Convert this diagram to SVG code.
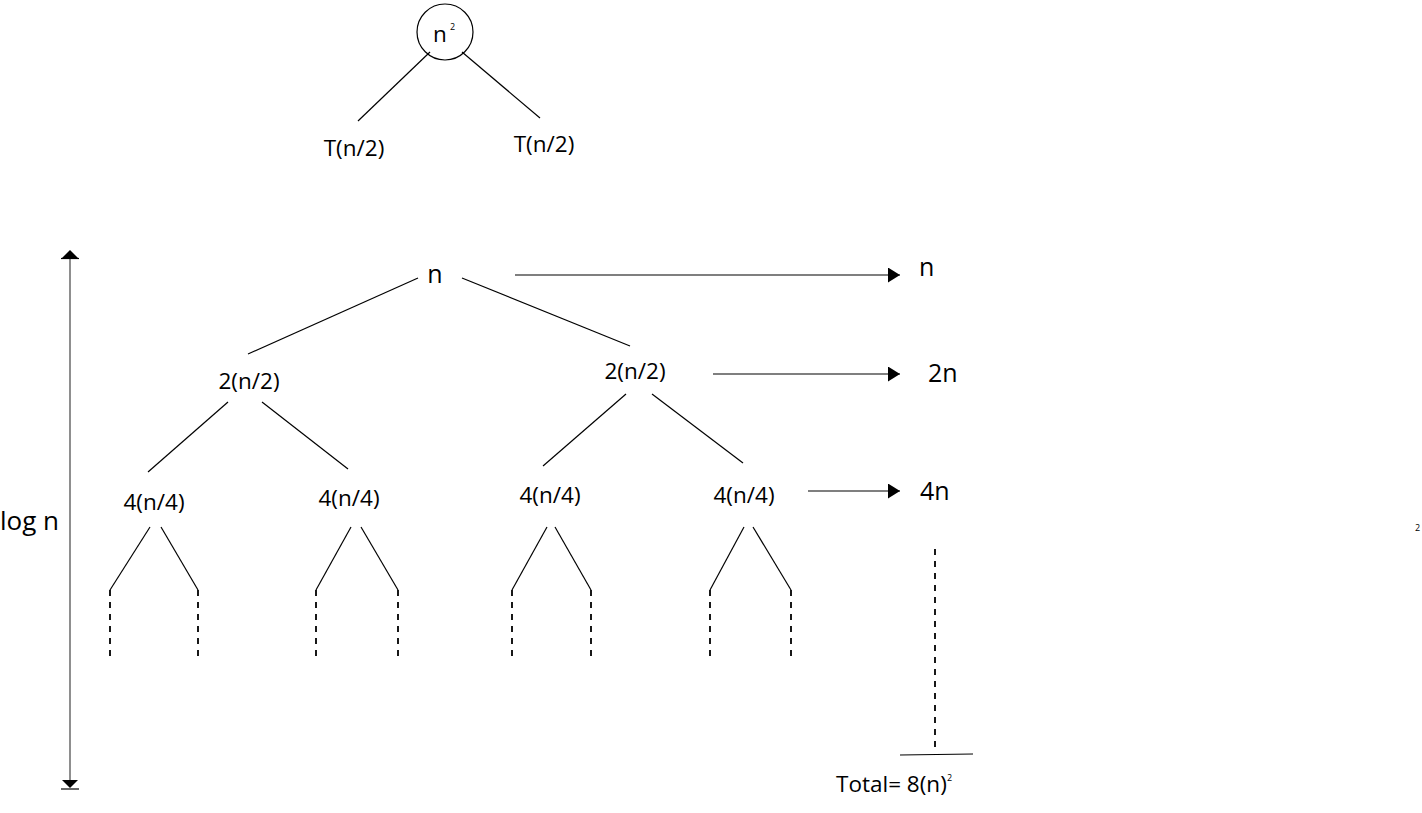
<svg xmlns="http://www.w3.org/2000/svg" width="1422" height="813" viewBox="0 0 1422 813">
<defs>
<style>
.t{font-family:"Open Sans","Noto Sans","Liberation Sans",sans-serif;fill:#000;font-size:22.5px}
.b{font-size:25px}
.s{font-size:9px}
.l{stroke:#000;stroke-width:1.2;fill:none}
.d{stroke:#000;stroke-width:1.8;fill:none;stroke-dasharray:6,6}
</style>
<marker id="ah" viewBox="0 0 12 15" refX="12" refY="7.5" markerWidth="12" markerHeight="15" markerUnits="userSpaceOnUse" orient="auto">
<path d="M0,0 L12,7.5 L0,15 Z" fill="#000"/>
</marker>
</defs>
<rect width="1422" height="813" fill="#fff"/>
<g id="root-node">
<circle cx="445" cy="32" r="28" class="l"/>
<text class="t" x="440" y="42" text-anchor="middle">n</text>
<text class="t s" x="450" y="30">2</text>
</g>
<g id="t-left"><text class="t" x="354" y="156" text-anchor="middle">T(n/2)</text></g>
<g id="t-right"><text class="t" x="544" y="152" text-anchor="middle">T(n/2)</text></g>
<g id="n-node"><text class="t b" x="435" y="283" text-anchor="middle">n</text></g>
<g id="l1-left"><text class="t" x="249" y="389" text-anchor="middle">2(n/2)</text></g>
<g id="l1-right"><text class="t" x="635" y="379" text-anchor="middle">2(n/2)</text></g>
<g id="l2-a"><text class="t" x="154" y="510" text-anchor="middle">4(n/4)</text></g>
<g id="l2-b"><text class="t" x="349" y="506" text-anchor="middle">4(n/4)</text></g>
<g id="l2-c"><text class="t" x="550" y="503" text-anchor="middle">4(n/4)</text></g>
<g id="l2-d"><text class="t" x="744" y="503" text-anchor="middle">4(n/4)</text></g>
<g id="sum-n"><text class="t b" x="919" y="276">n</text></g>
<g id="sum-2n"><text class="t b" x="928" y="382">2n</text></g>
<g id="sum-4n"><text class="t b" x="920" y="500">4n</text></g>
<g id="total">
<text class="t" x="836" y="792">Total= 8(n)</text>
<text class="t s" x="947" y="781">2</text>
</g>
<g id="stray-2"><text class="t s" x="1415" y="531">2</text></g>
<g id="logn"><text class="t" x="0" y="530" style="font-size:26px">log n</text></g>
<g id="connectors">
<line class="l" x1="430" y1="52" x2="358" y2="121"/>
<line class="l" x1="462" y1="52" x2="540" y2="118"/>
<line class="l" x1="418" y1="278" x2="248" y2="354"/>
<line class="l" x1="462" y1="278" x2="630" y2="346"/>
<line class="l" x1="515" y1="275" x2="900" y2="275" marker-end="url(#ah)"/>
<line class="l" x1="713" y1="374" x2="900" y2="374" marker-end="url(#ah)"/>
<line class="l" x1="808" y1="491" x2="900" y2="491" marker-end="url(#ah)"/>
<line class="l" x1="228" y1="402" x2="148" y2="472"/>
<line class="l" x1="262" y1="402" x2="348" y2="469"/>
<line class="l" x1="626" y1="394" x2="543" y2="466"/>
<line class="l" x1="652" y1="394" x2="743" y2="463"/>
<line class="l" x1="150" y1="527" x2="110" y2="590"/>
<line class="l" x1="161" y1="527" x2="198" y2="590"/>
<line class="l" x1="351" y1="527" x2="316" y2="590"/>
<line class="l" x1="361" y1="527" x2="398" y2="590"/>
<line class="l" x1="547" y1="527" x2="512" y2="590"/>
<line class="l" x1="555" y1="527" x2="591" y2="590"/>
<line class="l" x1="744" y1="527" x2="710" y2="590"/>
<line class="l" x1="753" y1="527" x2="791" y2="590"/>
<line class="d" x1="110" y1="590" x2="110" y2="662"/>
<line class="d" x1="198" y1="590" x2="198" y2="660"/>
<line class="d" x1="316" y1="590" x2="316" y2="660"/>
<line class="d" x1="398" y1="590" x2="398" y2="660"/>
<line class="d" x1="512" y1="590" x2="512" y2="660"/>
<line class="d" x1="591" y1="590" x2="591" y2="662"/>
<line class="d" x1="710" y1="590" x2="710" y2="662"/>
<line class="d" x1="791" y1="590" x2="791" y2="662"/>
<line class="d" x1="935" y1="549" x2="935" y2="752"/>
<line class="l" x1="900" y1="755" x2="973" y2="754"/>
<line class="l" x1="70" y1="258" x2="70" y2="781" style="stroke:#444"/>
<path d="M70,250 L78,258 L62,258 Z" fill="#000"/>
<line class="l" x1="61" y1="258.5" x2="79" y2="258.5"/>
<path d="M70,788 L78,780 L62,780 Z" fill="#000"/>
<line class="l" x1="61" y1="789" x2="79" y2="789"/>
</g>
</svg>
